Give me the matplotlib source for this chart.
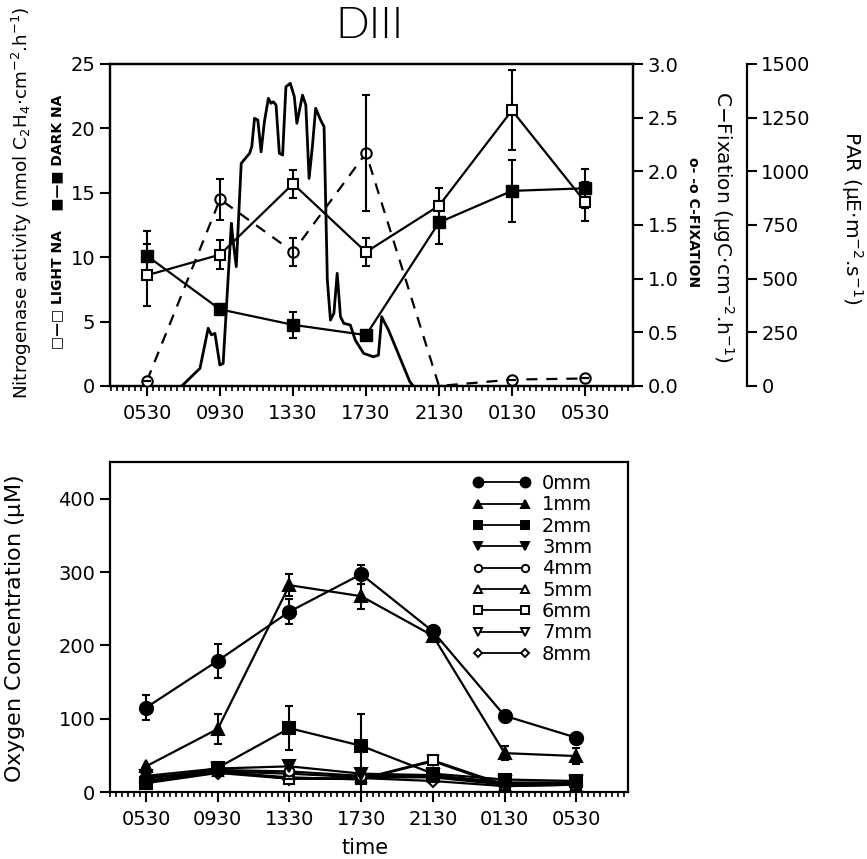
import numpy as np
import matplotlib
matplotlib.use("Agg")
import matplotlib.pyplot as plt
from matplotlib.lines import Line2D
from matplotlib.ticker import FixedLocator

plt.rcParams['font.family'] = ['DejaVu Sans']
plt.rcParams['mathtext.default'] = 'regular'

# ---------------- data ----------------
time_labels = ['0530', '0930', '1330', '1730', '2130', '0130', '0530']
time_hours = [5.5, 9.5, 13.5, 17.5, 21.5, 25.5, 29.5]

light_na = [8.6, 10.2, 15.7, 10.4, 14.0, 21.4, 14.3]
light_na_err = [2.4, 1.15, 1.1, 1.1, 1.4, 3.1, 1.5]
dark_na = [10.1, 5.95, 4.75, 3.95, 12.7, 15.15, 15.35]
dark_na_err = [1.9, 0.3, 1.0, 0.3, 1.65, 2.4, 1.5]

cfix = [0.05, 1.74, 1.25, 2.17, 0.0, 0.06, 0.07]
cfix_err = [0.0, 0.19, 0.13, 0.54, 0.0, 0.0, 0.0]
cfix_marked = [0, 1, 2, 3, 5, 6]

par_t = [7.40, 8.40, 8.85, 9.03, 9.22, 9.49, 9.67, 10.12, 10.21, 10.39, 10.66,
         11.12, 11.24, 11.39, 11.57, 11.75, 11.93, 12.15, 12.29, 12.42, 12.57,
         12.75, 12.93, 13.11, 13.35, 13.57, 13.71, 14.02, 14.20, 14.38, 14.56,
         14.74, 15.01, 15.20, 15.38, 15.55, 15.74, 15.92, 16.10, 16.28, 16.64,
         16.91, 17.37, 17.91, 18.18, 18.36, 18.49, 18.73, 19.90, 20.09]
par_v = [0, 82, 269, 238, 245, 98, 105, 758, 680, 556, 1037,
         1084, 1115, 1247, 1239, 1091, 1231, 1340, 1317, 1324, 1309,
         1084, 1076, 1394, 1410, 1348, 1224, 1355, 1309, 967, 1115,
         1294, 1239, 1208, 494, 307, 339, 525, 323, 292, 284,
         214, 152, 136, 144, 323, 300, 261, 20, 0]

depth_labels = ['0mm', '1mm', '2mm', '3mm', '4mm', '5mm', '6mm', '7mm', '8mm']
o2_0mm = [115, 179, 246, 297, 219, 104, 74]
o2_1mm = [35, 86, 282, 267, 213, 53, 49]
o2_2mm = [12, 33, 87, 63, 25, 17, 15]
o2_3mm = [22, 32, 35, 25, 23, 13, 13]
o2_4mm = [18, 30, 28, 22, 22, 12, 12]
o2_5mm = [20, 28, 25, 20, 20, 10, 10]
o2_6mm = [15, 29, 18, 18, 43, 10, 10]
o2_7mm = [14, 27, 20, 17, 42, 8, 10]
o2_8mm = [12, 26, 18, 19, 15, 8, 10]
o2_0mm_err = [17, 23, 17, 13, 0, 0, 0]
o2_1mm_err = [0, 21, 15, 17, 0, 10, 11]
o2_2mm_err_lo = [0, 0, 30, 63, 0, 0, 0]
o2_2mm_err_hi = [0, 0, 30, 44, 0, 0, 0]

# ---------------- styling ----------------
markers = ['o', '^', 's', 'v', 'o', '^', 's', 'v', 'D']
filled = [True, True, True, True, False, False, False, False, False]
msizes = [9.5, 8.5, 8.5, 8.5, 7, 7, 7, 7, 6]

FS_TICK = 14
fig = plt.figure(figsize=(8.67, 8.59), dpi=100)

def px(x0, y_top, x1, y_bot):
    W, H = 867, 859
    return [x0 / W, 1 - y_bot / H, (x1 - x0) / W, (y_bot - y_top) / H]

def style_x(ax, xmin, xmax):
    ax.set_xlim(xmin, xmax)
    ax.set_xticks(time_hours)
    ax.set_xticklabels(time_labels, fontsize=FS_TICK)
    minors = np.arange(time_hours[0] - 6 / 3, xmax, 1 / 3)
    ax.xaxis.set_minor_locator(FixedLocator(minors))
    ax.tick_params(axis='x', which='major', direction='out', length=7, width=1.5, pad=6)
    ax.tick_params(axis='x', which='minor', direction='out', length=3.5, width=1.2)

# ---------------- top panel ----------------
ax1 = fig.add_axes(px(110, 64, 633, 386))
ax2 = ax1.twinx()
ax3 = ax1.twinx()

for a in (ax1, ax2, ax3):
    for s in a.spines.values():
        s.set_linewidth(1.6)

ax1.set_ylim(0, 25)
ax1.set_yticks([0, 5, 10, 15, 20, 25])
ax1.tick_params(axis='y', direction='out', length=7, width=1.5, labelsize=FS_TICK)
style_x(ax1, 3.47, 32.13)

ax2.set_ylim(0, 3.0)
ax2.set_yticks([0.0, 0.5, 1.0, 1.5, 2.0, 2.5, 3.0])
ax2.set_yticklabels(['0.0', '0.5', '1.0', '1.5', '2.0', '2.5', '3.0'])
ax2.tick_params(axis='y', direction='out', length=7, width=1.5, labelsize=FS_TICK)

ax3.set_ylim(0, 1500)
ax3.set_yticks([0, 250, 500, 750, 1000, 1250, 1500])
ax3.spines['right'].set_position(('axes', 1.2175))
for s in ['left', 'top', 'bottom']:
    ax3.spines[s].set_visible(False)
ax3.tick_params(axis='y', direction='out', length=7, width=1.5, labelsize=FS_TICK)

# PAR curve
ax3.plot(par_t, par_v, color='black', lw=2.0, zorder=2)

# C-fixation (dashed, open circles)
ax2.plot(time_hours, cfix, color='black', lw=1.6, linestyle=(0, (5, 4)),
         marker='o', markevery=cfix_marked, markersize=7.5,
         markerfacecolor='white', markeredgecolor='black', markeredgewidth=1.5, zorder=3)
ax2.errorbar(time_hours, cfix, yerr=cfix_err, fmt='none', ecolor='black',
             elinewidth=1.5, capsize=3, capthick=1.5, zorder=3)

# Nitrogenase
ax1.errorbar(time_hours, dark_na, yerr=dark_na_err, color='black', lw=1.6,
             marker='s', markersize=8, markerfacecolor='black', markeredgecolor='black',
             elinewidth=1.5, capsize=3, capthick=1.5, zorder=4)
ax1.errorbar(time_hours, light_na, yerr=light_na_err, color='black', lw=1.6,
             marker='s', markersize=7.5, markerfacecolor='white', markeredgecolor='black',
             markeredgewidth=1.5, elinewidth=1.5, capsize=3, capthick=1.5, zorder=5)
ax1.set_zorder(ax3.get_zorder() + 1)
ax1.patch.set_visible(False)
ax2.set_zorder(ax1.get_zorder() + 1)
ax2.patch.set_visible(False)

# titles / axis labels (top)
fig.text(370 / 867, 1 - 27 / 859, 'DIII', ha='center', va='center', fontsize=32,
         family=['Lato', 'DejaVu Sans'], fontweight=300)
fig.text(22 / 867, 1 - 203 / 859,
         r'Nitrogenase activity (nmol C$_2$H$_4$$\cdot$cm$^{-2}$.h$^{-1}$)',
         rotation=90, ha='center', va='center', fontsize=13.2)
fig.text(57 / 867, 1 - 222 / 859, '\u25a1\u2014\u25a1 LIGHT NA    \u25a0\u2014\u25a0 DARK NA',
         rotation=90, ha='center', va='center', fontsize=10, fontweight='bold')
fig.text(693 / 867, 1 - 222 / 859, 'o- -o C-FIXATION',
         rotation=270, ha='center', va='center', fontsize=10, fontweight='bold')
fig.text(723 / 867, 1 - 227 / 859,
         r'C$-$Fixation ($\mu$gC$\cdot$cm$^{-2}$.h$^{-1}$)',
         rotation=270, ha='center', va='center', fontsize=14.5)
fig.text(852 / 867, 1 - 218 / 859,
         r'PAR ($\mu$E$\cdot$m$^{-2}$.s$^{-1}$)',
         rotation=270, ha='center', va='center', fontsize=14.5)

# ---------------- bottom panel ----------------
ax4 = fig.add_axes(px(110, 462, 628, 792))
for s in ax4.spines.values():
    s.set_linewidth(1.6)
ax4.set_ylim(0, 450)
ax4.set_yticks([0, 100, 200, 300, 400])
ax4.tick_params(axis='y', direction='out', length=7, width=1.5, labelsize=FS_TICK)
style_x(ax4, 3.49, 32.38)

series = [o2_0mm, o2_1mm, o2_2mm, o2_3mm, o2_4mm, o2_5mm, o2_6mm, o2_7mm, o2_8mm]
errs = [o2_0mm_err, o2_1mm_err, [o2_2mm_err_lo, o2_2mm_err_hi]] + [None] * 6
handles = []
for i in range(len(series) - 1, -1, -1):
    fc = 'black' if filled[i] else 'white'
    ax4.errorbar(time_hours, series[i], yerr=errs[i], color='black', lw=1.6,
                 marker=markers[i], markersize=msizes[i], markerfacecolor=fc,
                 markeredgecolor='black', markeredgewidth=1.5,
                 elinewidth=1.5, capsize=3, capthick=1.5, zorder=3 + (9 - i))
for i in range(len(series)):
    fc = 'black' if filled[i] else 'white'
    handles.append(Line2D([], [], color='black', lw=1.3, marker=markers[i],
                          markersize=msizes[i] * 0.75, markerfacecolor=fc,
                          markeredgecolor='black', markeredgewidth=1.4))
ax4.legend(handles, depth_labels, loc='upper left', numpoints=2, frameon=False,
           bbox_to_anchor=((472 - 110) / 518, 1 - (474 - 462) / 330),
           fontsize=14, handlelength=3.0, handletextpad=0.6, labelspacing=0.12,
           borderpad=0, borderaxespad=0)

fig.text(15 / 867, 1 - 629 / 859, r'Oxygen Concentration ($\mu$M)',
         rotation=90, ha='center', va='center', fontsize=16)
fig.text(365 / 867, 1 - 848 / 859, 'time', ha='center', va='center', fontsize=15)

fig.savefig('out.png', dpi=100)
